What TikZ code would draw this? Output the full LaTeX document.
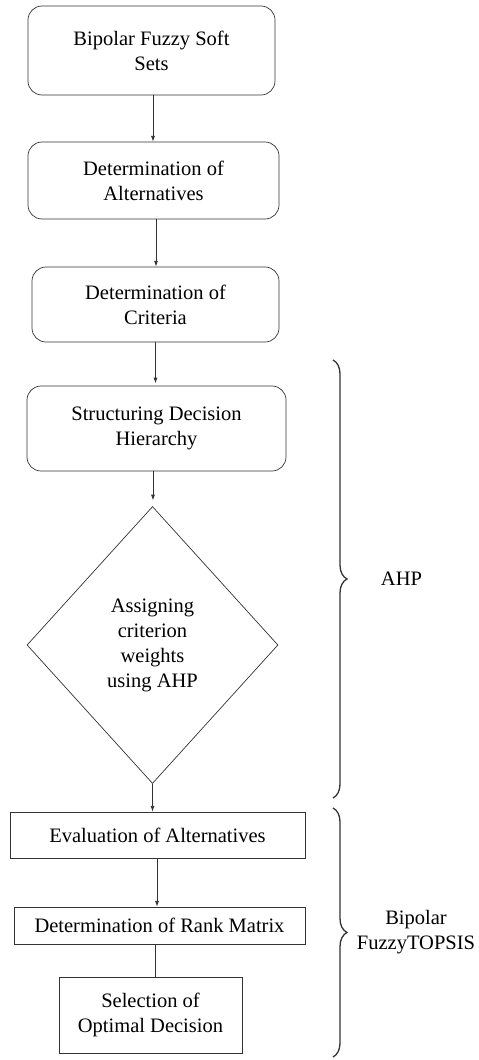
\documentclass[tikz,border=0pt]{standalone}
\usepackage{fontspec}
\setmainfont{Liberation Serif}
\usepackage{tikz}
\usetikzlibrary{arrows.meta}
\usetikzlibrary{shapes.geometric}
\usetikzlibrary{decorations.pathreplacing}
\usetikzlibrary{positioning}

\begin{document}
\begin{tikzpicture}[x=1pt,y=-1pt,line width=0.7pt,draw=black!80,
        font=\fontsize{20.5}{25}\selectfont,
        rbox/.style={draw,rounded corners=14pt,align=center,inner sep=0pt},
        sbox/.style={draw,align=center,inner sep=0pt},
        flow/.style={-{Latex[length=2mm,width=1.4mm]}},
        group/.style={decorate,decoration={brace,amplitude=14pt},line width=1.3pt}]
        \useasboundingbox (0,0) rectangle (479,1060);

        \node[rbox,minimum width=247pt,minimum height=89pt] (sets) at (151.5,50.5) {Bipolar Fuzzy Soft\\Sets};
        \node[rbox,minimum width=251pt,minimum height=77pt] (alt) at (153.5,180.5) {Determination of\\Alternatives};
        \node[rbox,minimum width=247pt,minimum height=75pt] (crit) at (155.5,304.5) {Determination of\\Criteria};
        \node[rbox,minimum width=259pt,minimum height=85pt] (hier) at (156.5,428.5) {Structuring Decision\\Hierarchy};
        \node[draw,diamond,inner sep=0pt,minimum width=251pt,minimum height=277pt,align=center] (weights) at (152.5,645) {Assigning\\criterion\\weights\\using AHP};

        \node[sbox,minimum width=295pt,minimum height=46pt] (eval) at (157.5,835) {Evaluation of Alternatives};
        \node[sbox,minimum width=291pt,minimum height=37pt] (rank) at (159.5,925.5) {Determination of Rank Matrix};
        \node[sbox,minimum width=183pt,minimum height=76pt] (select) at (150.5,1015) {Selection of\\Optimal Decision};

        \draw[flow] ([xshift=1.5pt]sets.south) -- ([xshift=1.5pt]sets.south |- alt.north);
        \draw[flow] ([xshift=2.5pt]alt.south) -- ([xshift=2.5pt]alt.south |- crit.north);
        \draw[flow] (crit.south) -- ++(0,41);
        \draw[flow] ([xshift=-3.5pt]hier.south) -- ++(0,29);
        \draw[flow] (weights.south) -- (weights.south |- eval.north);
        \draw[flow] ([xshift=-0.5pt]eval.south) -- ([xshift=-0.5pt]eval.south |- rank.north);
        \draw ([xshift=4.5pt]select.north |- rank.south) -- ([xshift=4.5pt]select.north);

        % groups
        \coordinate (ahptop) at (333,360);
        \coordinate (ahpbot) at (333,798);
        \coordinate (topsistop) at (333,808);
        \coordinate (topsisbot) at (333,1057);
        \draw[group] (ahptop) -- node[right=44pt] (ahp) {AHP} (ahpbot);
        \draw[group] (topsistop) -- node[right=20pt,align=center] (topsis) {Bipolar\\FuzzyTOPSIS} (topsisbot);
    \end{tikzpicture}
\end{document}
